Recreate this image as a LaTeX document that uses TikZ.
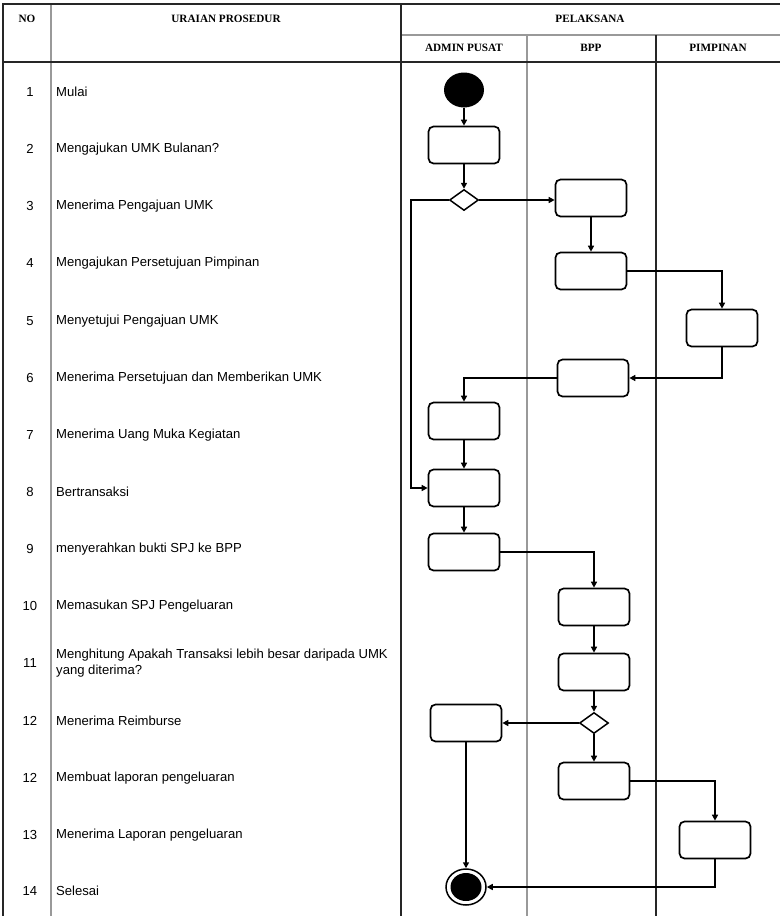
\documentclass[tikz,border=0pt]{standalone}
\usepackage{fontspec}
\setmainfont{Liberation Sans}
\newfontfamily\headfont{Liberation Serif}
\usetikzlibrary{arrows.meta, shapes.geometric, positioning}

\begin{document}
\begin{tikzpicture}[
        x=1pt, y=-1pt,
        font=\fontsize{13.1}{16}\selectfont,
        >={Triangle[length=6pt, width=6pt]},
        rule/.style={line width=1.8pt, black!85},
        softrule/.style={line width=1.6pt, gray!80},
        head/.style={font=\headfont\bfseries\fontsize{11.2}{12}\selectfont},
        no/.style={anchor=center},
        uraian/.style={anchor=west, inner sep=0pt, align=left},
        act/.style={draw, line width=1.7pt, rounded corners=5pt, minimum width=71pt, minimum height=37pt, inner sep=0pt},
        decide/.style={draw, diamond, line width=1.5pt, minimum width=29pt, minimum height=21pt, inner sep=0pt},
        initial/.style={ellipse, fill=black, minimum width=40pt, minimum height=35pt, inner sep=0pt},
        final/.style={ellipse, draw, line width=1.5pt, fill=white, minimum width=40pt, minimum height=36pt, inner sep=0pt},
        finalin/.style={ellipse, fill=black, minimum width=31pt, minimum height=28pt, inner sep=0pt},
        arrow/.style={->, line width=1.7pt}
    ]
        \useasboundingbox (0,0) rectangle (780,916);

        % table
        \draw[softrule] (51,4) -- (51,916);
        \draw[softrule] (401,35) -- (780,35);
        \draw[softrule] (527,35) -- (527,916);
        \draw[rule] (3,916) -- (3,4) -- (780,4);
        \draw[rule] (401,4) -- (401,916);
        \draw[rule] (656,35) -- (656,916);
        \draw[rule] (3,62) -- (780,62);

        \node[head] (hno) at (27,19) {NO};
        \node[head] (huraian) at (226,19) {URAIAN PROSEDUR};
        \node[head] (hpelaksana) at (590,19) {PELAKSANA};
        \node[head] (hadmin) at (464,48) {ADMIN PUSAT};
        \node[head] (hbpp) at (591,48) {BPP};
        \node[head] (hpimpinan) at (718,48) {PIMPINAN};

        % uraian prosedur
        \node[no] (n1) at (30,92) {1};
        \node[uraian] (u1) at (56,92) {Mulai};
        \node[no] (n2) at (30,149) {2};
        \node[uraian] (u2) at (56,149) {Mengajukan UMK Bulanan?};
        \node[no] (n3) at (30,206) {3};
        \node[uraian] (u3) at (56,206) {Menerima Pengajuan UMK};
        \node[no] (n4) at (30,263) {4};
        \node[uraian] (u4) at (56,263) {Mengajukan Persetujuan Pimpinan};
        \node[no] (n5) at (30,321) {5};
        \node[uraian] (u5) at (56,321) {Menyetujui Pengajuan UMK};
        \node[no] (n6) at (30,378) {6};
        \node[uraian] (u6) at (56,378) {Menerima Persetujuan dan Memberikan UMK};
        \node[no] (n7) at (30,435) {7};
        \node[uraian] (u7) at (56,435) {Menerima Uang Muka Kegiatan};
        \node[no] (n8) at (30,492) {8};
        \node[uraian] (u8) at (56,492) {Bertransaksi};
        \node[no] (n9) at (30,549) {9};
        \node[uraian] (u9) at (56,549) {menyerahkan bukti SPJ ke BPP};
        \node[no] (n10) at (30,606) {10};
        \node[uraian] (u10) at (56,606) {Memasukan SPJ Pengeluaran};
        \node[no] (n11) at (30,663) {11};
        \node[uraian] (u11) at (56,663) {Menghitung Apakah Transaksi lebih besar daripada UMK\\yang diterima?};
        \node[no] (n12) at (30,721) {12};
        \node[uraian] (u12) at (56,721) {Menerima Reimburse};
        \node[no] (n13) at (30,778) {12};
        \node[uraian] (u13) at (56,778) {Membuat laporan pengeluaran};
        \node[no] (n14) at (30,835) {13};
        \node[uraian] (u14) at (56,835) {Menerima Laporan pengeluaran};
        \node[no] (n15) at (30,891) {14};
        \node[uraian] (u15) at (56,891) {Selesai};

        % aktivitas
        \node[initial] (start) at (464,90) {};
        \node[act] (mengajukan) at (464,145) {};
        \node[decide] (cek) at (464,200) {};
        \node[act] (terima) at (591,198) {};
        \node[act] (ajukan) at (591,271) {};
        \node[act] (setuju) at (722,328) {};
        \node[act] (beri) at (593,378) {};
        \node[act] (uangmuka) at (464,421) {};
        \node[act] (transaksi) at (464,488) {};
        \node[act] (spj) at (464,552) {};
        \node[act] (masukan) at (594,607) {};
        \node[act] (hitung) at (594,672) {};
        \node[decide] (lebih) at (594,723) {};
        \node[act] (reimburse) at (466,723) {};
        \node[act] (laporan) at (594,781) {};
        \node[act] (terimalap) at (715,840) {};
        \node[final] (end) at (466,887) {};
        \node[finalin] (endin) at (end) {};

        \draw[arrow] (start) -- (mengajukan);
        \draw[arrow] (mengajukan) -- (cek);
        \draw[arrow] (cek.east) -- (cek.east -| terima.west);
        \draw[arrow] (cek.west) -- ++(-38,0) |- (transaksi.west);
        \draw[arrow] (terima) -- (ajukan);
        \draw[arrow] (ajukan.east) -| (setuju.north);
        \draw[arrow] (setuju.south) |- (beri.east);
        \draw[arrow] (beri.west) -| (uangmuka.north);
        \draw[arrow] (uangmuka) -- (transaksi);
        \draw[arrow] (transaksi) -- (spj);
        \draw[arrow] (spj.east) -| (masukan.north);
        \draw[arrow] (masukan) -- (hitung);
        \draw[arrow] (hitung) -- (lebih);
        \draw[arrow] (lebih.west) -- (reimburse.east);
        \draw[arrow] (lebih) -- (laporan);
        \draw[arrow] (laporan.east) -| (terimalap.north);
        \draw[arrow] (terimalap.south) |- (end.east);
        \draw[arrow] (reimburse) -- (end);
    \end{tikzpicture}
\end{document}
